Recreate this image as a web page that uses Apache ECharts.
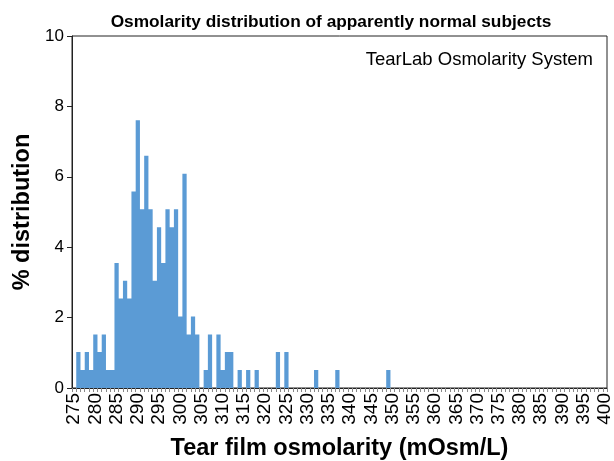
<!DOCTYPE html>
<html>
<head>
<meta charset="utf-8">
<script src="https://cdn.jsdelivr.net/npm/echarts@6/dist/echarts.min.js"></script>
<style>
html,body{margin:0;padding:0;background:#fff;}
#chart{width:614px;height:461px;}
</style>
</head>
<body>
<div id="chart"></div>
<script>
// Osmolarity bins (mOsm/L), one category per unit
const xMin = 275;
const xMax = 400;
// Non-zero bins
const binValues = [276,277,278,279,280,281,282,283,284,285,286,287,288,289,290,291,292,293,294,295,296,297,298,299,300,301,302,303,304,306,307,309,310,311,312,314,316,318,323,325,332,337,349];
const binPercent = [1.02,0.51,1.02,0.51,1.52,1.02,1.52,0.51,0.51,3.55,2.54,3.05,2.54,5.58,7.61,5.08,6.60,5.08,3.05,4.57,3.55,5.08,4.57,5.08,2.03,6.09,1.52,2.03,1.52,0.51,1.52,1.52,0.51,1.02,1.02,0.51,0.51,0.51,1.02,1.02,0.51,0.51,0.51];
const yTicks = [0,2,4,6,8,10];

const titleText = 'Osmolarity distribution of apparently normal subjects';
const insideLabel = 'TearLab Osmolarity System';
const xName = 'Tear film osmolarity (mOsm/L)';
const yName = '% distribution';

const categories = [];
for (let v = xMin; v <= xMax; v++) categories.push(String(v));
const lookup = {};
binValues.forEach((v, i) => { lookup[v] = binPercent[i]; });
const seriesData = categories.map(c => (lookup[+c] !== undefined ? lookup[+c] : 0));

const font = '"Liberation Sans", Arial, Helvetica, sans-serif';
const chart = echarts.init(document.getElementById('chart'), null, {renderer: 'canvas'});
chart.setOption({
  animation: false,
  backgroundColor: '#fff',
  title: {
    text: titleText,
    left: 326, top: 9, textAlign: 'center',
    textStyle: {fontFamily: font, fontSize: 17.3, fontWeight: 'bold', color: '#000'}
  },
  graphic: [{
    type: 'text', right: 21, top: 50,
    style: {text: insideLabel, fontFamily: font, fontSize: 18.5, fill: '#000'}
  }],
  grid: {
    left: 72, right: 7, top: 36, bottom: 73,
    outerBoundsMode: 'none',
    containLabel: false,
    show: true, borderColor: '#222', borderWidth: 1, backgroundColor: 'transparent'
  },
  xAxis: {
    type: 'category',
    data: categories,
    boundaryGap: true,
    name: xName,
    nameLocation: 'middle',
    nameGap: 49,
    nameTextStyle: {fontFamily: font, fontSize: 23.5, fontWeight: 'bold', color: '#000'},
    axisLine: {show: true, lineStyle: {color: '#222', width: 1}},
    axisTick: {show: true, interval: 0, length: 4, alignWithLabel: false, lineStyle: {color: '#888'}},
    axisLabel: {
      interval: 4, rotate: 90, margin: 5,
      fontFamily: font, fontSize: 19, color: '#000'
    },
    splitLine: {show: false}
  },
  yAxis: {
    type: 'value',
    min: yTicks[0], max: yTicks[yTicks.length - 1], interval: 2,
    name: yName,
    nameLocation: 'middle',
    nameGap: 36,
    nameTextStyle: {fontFamily: font, fontSize: 23.5, fontWeight: 'bold', color: '#000'},
    axisLine: {show: true, lineStyle: {color: '#222', width: 1}},
    axisTick: {show: true, length: 5, lineStyle: {color: '#222'}},
    axisLabel: {fontFamily: font, fontSize: 17, color: '#000', margin: 8},
    splitLine: {show: false}
  },
  series: [{
    type: 'bar',
    data: seriesData,
    large: true,
    largeThreshold: 50,
    barCategoryGap: '0%',
    barGap: '0%',
    itemStyle: {color: '#5b9bd5'}
  }]
});
</script>
</body>
</html>
